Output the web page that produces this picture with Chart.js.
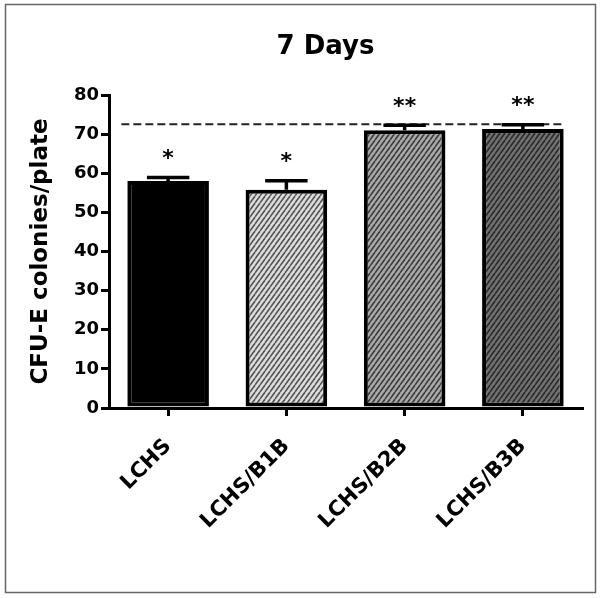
<!DOCTYPE html>
<html>
<head>
<meta charset="utf-8">
<script src="https://cdn.jsdelivr.net/npm/chart.js@4"></script>
<style>
html,body{margin:0;padding:0;background:#fff;}
#c{display:block;}
</style>
</head>
<body>
<canvas id="c" width="601" height="598"></canvas>
<script>
// ---- data ----
const categories = ['LCHS', 'LCHS/B1B', 'LCHS/B2B', 'LCHS/B3B'];
const means = [58, 55.8, 71, 71.3];
const errors = [0.9, 2.3, 1.3, 1.1];
const significance = ['*', '*', '**', '**'];
const referenceLevel = 72.5;
const yTicks = [0, 10, 20, 30, 40, 50, 60, 70, 80];
const titleText = '7 Days';
const yTitle = 'CFU-E colonies/plate';

// ---- styles ----
const FONT = 'DejaVu Sans';
function hatch(bg, fg) {
  const w = 5, h = 7;
  const cv = document.createElement('canvas');
  cv.width = w; cv.height = h;
  const g = cv.getContext('2d');
  g.fillStyle = bg; g.fillRect(0, 0, w, h);
  g.strokeStyle = fg; g.lineWidth = 1.6;
  for (const dx of [-w, 0, w]) {
    g.beginPath(); g.moveTo(dx, h); g.lineTo(dx + w, 0); g.stroke();
  }
  return document.getElementById('c').getContext('2d').createPattern(cv, 'repeat');
}
const fills = ['#000000', hatch('#dedede', '#555555'), hatch('#ababab', '#3c3c3c'), hatch('#727272', '#2a2a2a')];

const framePlugin = {
  id: 'frame',
  beforeDraw(chart) {
    const ctx = chart.ctx;
    ctx.save();
    ctx.fillStyle = '#fff';
    ctx.fillRect(0, 0, chart.width, chart.height);
    ctx.restore();
  },
  afterDraw(chart) {
    const ctx = chart.ctx;
    ctx.save();
    ctx.strokeStyle = '#666';
    ctx.lineWidth = 1.5;
    ctx.strokeRect(5.5, 4.5, chart.width - 11, chart.height - 10);
    ctx.fillStyle = '#000';
    ctx.font = 'bold 26px "' + FONT + '"';
    ctx.textAlign = 'center';
    ctx.textBaseline = 'middle';
    ctx.fillText(titleText, chart.width / 2 + 25, 47);
    ctx.restore();
  }
};

const annotPlugin = {
  id: 'annot',
  afterDatasetsDraw(chart) {
    const ctx = chart.ctx;
    const y = chart.scales.y;
    const meta = chart.getDatasetMeta(0);
    const bars = meta.data;
    ctx.save();
    // reference dashed line
    const first = bars[0], last = bars[bars.length - 1];
    const yRef = y.getPixelForValue(referenceLevel);
    ctx.strokeStyle = '#222';
    ctx.lineWidth = 2;
    ctx.setLineDash([8, 4]);
    ctx.beginPath();
    ctx.moveTo(first.x - first.width / 2 - 6, yRef);
    ctx.lineTo(last.x + last.width / 2, yRef);
    ctx.stroke();
    ctx.setLineDash([]);
    // error bars + significance marks
    bars.forEach((bar, i) => {
      const yTop = y.getPixelForValue(means[i] + errors[i]);
      const half = bar.width * 0.26;
      ctx.strokeStyle = '#000';
      ctx.lineWidth = 3.5;
      ctx.beginPath();
      ctx.moveTo(bar.x, bar.y);
      ctx.lineTo(bar.x, yTop);
      ctx.moveTo(bar.x - half, yTop);
      ctx.lineTo(bar.x + half, yTop);
      ctx.stroke();
      ctx.fillStyle = '#000';
      ctx.font = 'bold 22px "' + FONT + '"';
      ctx.textAlign = 'center';
      ctx.textBaseline = 'middle';
      ctx.fillText(significance[i], bar.x, yTop - 18);
    });
    ctx.restore();
  }
};

new Chart(document.getElementById('c'), {
  type: 'bar',
  data: {
    labels: categories,
    datasets: [{
      data: means,
      backgroundColor: fills,
      borderColor: '#000',
      borderWidth: 4,
      borderSkipped: false,
      barPercentage: 0.69,
      categoryPercentage: 1
    }]
  },
  options: {
    responsive: false,
    animation: false,
    devicePixelRatio: 1,
    layout: { padding: { left: 0, right: 19, top: 95, bottom: 0 } },
    plugins: {
      legend: { display: false },
      tooltip: { enabled: false },
      title: { display: false }
    },
    scales: {
      x: {
        offset: true,
        border: { display: true, color: '#000', width: 3 },
        grid: { display: true, offset: false, drawOnChartArea: false, drawTicks: true, tickLength: 8, color: '#000', lineWidth: 3 },
        ticks: { color: '#000', font: { family: FONT, size: 21, weight: 'bold' }, minRotation: 45, maxRotation: 45, padding: 18 },
        afterFit: s => { s.height = 190; }
      },
      y: {
        min: 0,
        max: 80,
        afterBuildTicks: s => { s.ticks = yTicks.map(v => ({ value: v })); },
        border: { display: true, color: '#000', width: 3 },
        grid: { display: true, drawOnChartArea: false, drawTicks: true, tickLength: 8, color: '#000', lineWidth: 3 },
        ticks: { color: '#000', font: { family: FONT, size: 18, weight: 'bold' }, padding: 2 },
        title: { display: true, text: yTitle, color: '#000', font: { family: FONT, size: 23, weight: 'bold' }, padding: { top: 27, bottom: 0 } },
        afterFit: s => { s.width = 109; }
      }
    }
  },
  plugins: [framePlugin, annotPlugin]
});
</script>
</body>
</html>
